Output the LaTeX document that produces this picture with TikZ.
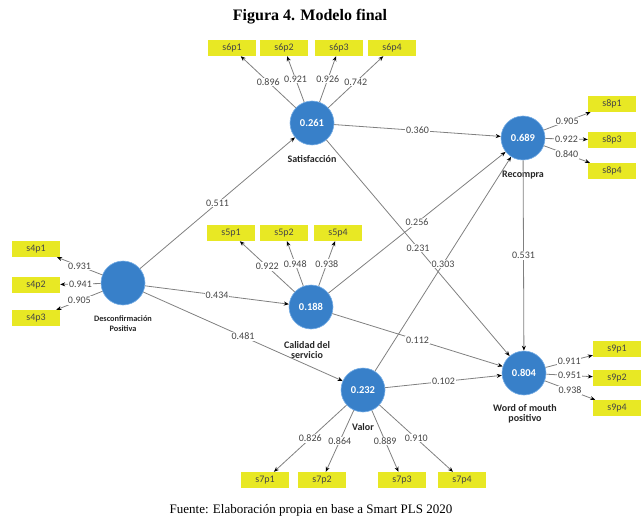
\documentclass[tikz,border=0pt]{standalone}
\usepackage{fontspec}
\setmainfont{Liberation Serif}
\newfontfamily\plsfont{Carlito}
\usetikzlibrary{arrows.meta}
\definecolor{lvblue}{RGB}{56,128,201}
\definecolor{lvring}{RGB}{120,175,230}
\definecolor{mvyellow}{RGB}{232,232,36}
\definecolor{linegray}{RGB}{128,128,128}
\definecolor{txtgray}{RGB}{70,70,70}
\begin{document}
\begin{tikzpicture}[x=1pt,y=-1pt,
 lv/.style={circle, fill=lvblue, draw=lvring, line width=0.6pt, minimum size=44pt, inner sep=0pt, text=white, font=\plsfont\bfseries\fontsize{10.5}{12}\selectfont},
 mv/.style={rectangle, fill=mvyellow, minimum width=48pt, minimum height=16pt, inner sep=0pt, text=txtgray, font=\plsfont\fontsize{10}{12}\selectfont},
 lvname/.style={font=\plsfont\bfseries\fontsize{10}{10.5}\selectfont, text=black!85, align=center, inner sep=0pt},
 arr/.style={draw=linegray, line width=0.8pt, -{Stealth[length=5pt,width=4pt,color=black]}},
 coef/.style={midway, fill=white, inner sep=0.8pt, text=txtgray, font=\plsfont\fontsize{10}{12}\selectfont},
]
\useasboundingbox (0,0) rectangle (644,521);

% title and source
\node[font=\bfseries\fontsize{16}{18}\selectfont, inner sep=0pt] (title) at (310,17) {Figura 4. Modelo final};
\node[font=\fontsize{13}{15}\selectfont, inner sep=0pt] (source) at (311,510) {Fuente: Elaboración propia en base a Smart PLS 2020};

% latent variables
\node[lv] (sat) at (312,123) {0.261};
\node[lv] (rec) at (523,138) {0.689};
\node[lv] (des) at (123,283) {};
\node[lv] (cal) at (311,307) {0.188};
\node[lv] (val) at (363,390) {0.232};
\node[lv] (wom) at (524,373) {0.804};

% latent names
\node[lvname] (satn) at (312,159) {Satisfacción};
\node[lvname] (recn) at (523,175) {Recompra};
\node[lvname, font=\plsfont\bfseries\fontsize{8.3}{10}\selectfont] (desn) at (123,324) {Desconfirmación\\Positiva};
\node[lvname] (caln) at (307,350) {Calidad del\\servicio};
\node[lvname] (valn) at (363,427) {Valor};
\node[lvname] (womn) at (525,414) {Word of mouth\\positivo};

% indicators
\node[mv] (s6p1) at (232,48) {s6p1};
\node[mv] (s6p2) at (284,48) {s6p2};
\node[mv] (s6p3) at (339,48) {s6p3};
\node[mv] (s6p4) at (392,48) {s6p4};
\node[mv] (s8p1) at (612,104) {s8p1};
\node[mv] (s8p3) at (612,140) {s8p3};
\node[mv] (s8p4) at (612,171) {s8p4};
\node[mv] (s4p1) at (36,249) {s4p1};
\node[mv] (s4p2) at (36,285) {s4p2};
\node[mv] (s4p3) at (36,318) {s4p3};
\node[mv] (s5p1) at (231,233) {s5p1};
\node[mv] (s5p2) at (284,233) {s5p2};
\node[mv] (s5p4) at (338,233) {s5p4};
\node[mv] (s9p1) at (617,349) {s9p1};
\node[mv] (s9p2) at (617,378) {s9p2};
\node[mv] (s9p4) at (617,408) {s9p4};
\node[mv] (s7p1) at (265,480) {s7p1};
\node[mv] (s7p2) at (322,480) {s7p2};
\node[mv] (s7p3) at (402,480) {s7p3};
\node[mv] (s7p4) at (462,480) {s7p4};

% structural paths
\draw[arr] (des) -- (sat) node[coef]{0.511};
\draw[arr] (des) -- (cal) node[coef]{0.434};
\draw[arr] (des) -- (val) node[coef]{0.481};
\draw[arr] (sat) -- (rec) node[coef]{0.360};
\draw[arr] (sat) -- (wom) node[coef]{0.231};
\draw[arr] (cal) -- (rec) node[coef]{0.256};
\draw[arr] (cal) -- (wom) node[coef]{0.112};
\draw[arr] (val) -- (rec) node[coef]{0.303};
\draw[arr] (val) -- (wom) node[coef]{0.102};
\draw[arr] (rec) -- (wom) node[coef]{0.531};

% outer loadings
\draw[arr] (sat) -- (s6p1) node[coef]{0.896};
\draw[arr] (sat) -- (s6p2) node[coef]{0.921};
\draw[arr] (sat) -- (s6p3) node[coef]{0.926};
\draw[arr] (sat) -- (s6p4) node[coef]{0.742};
\draw[arr] (rec) -- (s8p1) node[coef]{0.905};
\draw[arr] (rec) -- (s8p3) node[coef]{0.922};
\draw[arr] (rec) -- (s8p4) node[coef]{0.840};
\draw[arr] (des) -- (s4p1) node[coef]{0.931};
\draw[arr] (des) -- (s4p2) node[coef]{0.941};
\draw[arr] (des) -- (s4p3) node[coef]{0.905};
\draw[arr] (cal) -- (s5p1) node[coef]{0.922};
\draw[arr] (cal) -- (s5p2) node[coef]{0.948};
\draw[arr] (cal) -- (s5p4) node[coef]{0.938};
\draw[arr] (wom) -- (s9p1) node[coef]{0.911};
\draw[arr] (wom) -- (s9p2) node[coef]{0.951};
\draw[arr] (wom) -- (s9p4) node[coef]{0.938};
\draw[arr] (val) -- (s7p1) node[coef]{0.826};
\draw[arr] (val) -- (s7p2) node[coef]{0.864};
\draw[arr] (val) -- (s7p3) node[coef]{0.889};
\draw[arr] (val) -- (s7p4) node[coef]{0.910};
\end{tikzpicture}
\end{document}
